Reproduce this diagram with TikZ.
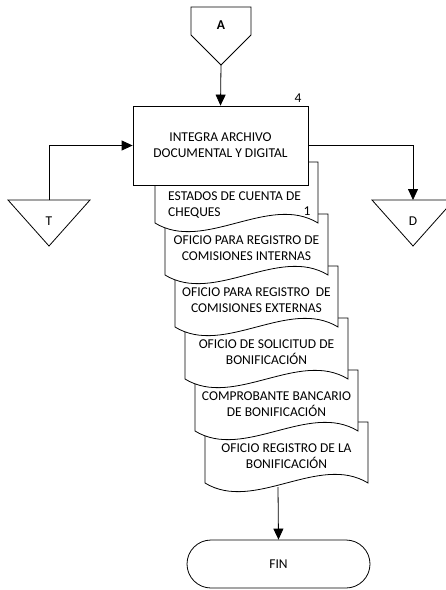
\documentclass[tikz,border=0pt]{standalone}
\usepackage{fontspec}
\setmainfont{Carlito}
\usetikzlibrary{arrows.meta}
\tikzset{
  line/.style={draw=black, line width=0.8pt},
  flow/.style={line, -{Triangle[length=11pt,width=10pt]}},
  txt/.style={font=\fontsize{13.5}{16}\selectfont, inner sep=0pt, align=center},
  % document sheet with a wavy lower edge, 163 wide and 61 high
  pics/docsheet/.style={code={
    \draw[line, fill=white] (0,0) -- (163,0) -- (163,61)
      .. controls (114,31) and (49,91) .. (0,61) -- cycle;}},
}
\begin{document}
\begin{tikzpicture}[x=1pt,y=-1pt]
\useasboundingbox (0,0) rectangle (446,590);

% off-page connector A
\draw[line] (191,7) -- (251,7) -- (251,35) -- (221,65) -- (191,35) -- cycle;
\node[txt, font=\fontsize{13.5}{16}\selectfont\bfseries] (alab) at (221,25) {A};
\coordinate (aout) at (221,65);

% stacked documents, the last one drawn first so earlier ones lie on top
\pic at (205,422) {docsheet};
\pic at (195,370) {docsheet};
\pic at (185,318) {docsheet};
\pic at (175,266) {docsheet};
\pic at (165,214) {docsheet};
\pic at (155,162) {docsheet};

\node[txt] (doc6) at (286.5,456) {OFICIO REGISTRO DE LA\\BONIFICACIÓN};
\node[txt] (doc5) at (276.5,404) {COMPROBANTE BANCARIO\\DE BONIFICACIÓN};
\node[txt] (doc4) at (266.5,352) {OFICIO DE SOLICITUD DE\\BONIFICACIÓN};
\node[txt] (doc3) at (256.5,300) {OFICIO PARA REGISTRO\ \ DE\\COMISIONES EXTERNAS};
\node[txt] (doc2) at (246.5,248) {OFICIO PARA REGISTRO DE\\COMISIONES INTERNAS};
\node[txt, align=left, anchor=west] (doc1) at (168,205) {ESTADOS DE CUENTA DE\\CHEQUES};
\node[txt] (copy1) at (307,211) {1};
\coordinate (d6out) at (278,487);

% process box
\node[line, fill=white, txt, minimum width=175pt, minimum height=79pt] (box) at (220.5,145.5)
  {INTEGRA ARCHIVO\\DOCUMENTAL Y DIGITAL};
\node[txt] (num) at (298,98) {4};

% file symbols T and D
\draw[line] (8,200) -- (90,200) -- (49,246) -- cycle;
\node[txt] (tlab) at (49,221) {T};
\coordinate (tin) at (49,200);
\draw[line] (372,200) -- (454,200) -- (413,246) -- cycle;
\node[txt] (dlab) at (413,221) {D};
\coordinate (din) at (413,200);

% terminator
\node[line, txt, rounded corners=24pt, minimum width=183pt, minimum height=48pt] (fin) at (278.5,564) {FIN};

% connectors
\draw[flow] (aout) -- (box.north);
\draw[flow] (tin) |- (box.west);
\draw[flow] (box.east) -| (din);
\draw[flow] (d6out) -- (fin.north);
\end{tikzpicture}
\end{document}
